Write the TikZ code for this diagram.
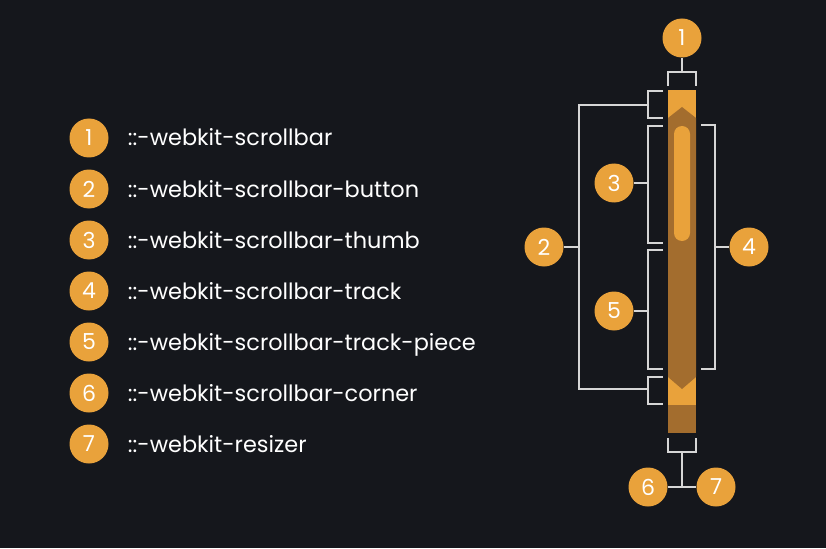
\documentclass[tikz,border=0pt]{standalone}
\usepackage{fontspec}
\setmainfont{Poppins}
\usetikzlibrary{positioning}
\definecolor{bg}{HTML}{15171C}
\definecolor{amber}{HTML}{E9A23B}
\definecolor{bronze}{HTML}{A36D2E}
\definecolor{wire}{HTML}{D6D6D6}
\begin{document}
\begin{tikzpicture}[x=1pt,y=-1pt,
  num/.style={circle,fill=amber,minimum size=39pt,inner sep=0pt,text=white,font=\fontsize{22}{22}\selectfont},
  lbl/.style={anchor=west,text=white,inner sep=0pt,text height=20pt,text depth=4pt,font=\fontsize{22.4}{26}\selectfont},
  link/.style={draw=wire,line width=1.3pt}]
\fill[bg] (0,0) rectangle (826,548);
% legend
\foreach \n/\t [count=\i from 0] in {1/scrollbar,2/scrollbar-button,3/scrollbar-thumb,4/scrollbar-track,5/scrollbar-track-piece,6/scrollbar-corner,7/resizer}
  \node[num] (k\n) at (89,138+51*\i) {\n} node[lbl,right=19pt of k\n] (t\n) {::-webkit-\t};
% scrollbar
\fill[amber] (668,90) rectangle (696,405);
\fill[bronze] (668,118) -- (682,107) -- (696,118) -- (696,377) -- (682,389) -- (668,377) -- cycle;
\fill[bronze] (668,405) rectangle (696,433);
\fill[amber,rounded corners=8pt] (674,126) rectangle (690,241);
% callouts
\node[num] (c1) at (682,38) {1};
\node[num] (c2) at (544,247) {2};
\node[num] (c3) at (614,183) {3};
\node[num] (c4) at (749,247) {4};
\node[num] (c5) at (614,311) {5};
\node[num] (c6) at (648,487) {6};
\node[num] (c7) at (716,487) {7};
\coordinate (bar) at (682,72);
\coordinate (upbtn) at (648,105);
\coordinate (thumb) at (648,183);
\coordinate (piece) at (648,311);
\coordinate (dnbtn) at (648,389);
\coordinate (btns) at (579,247);
\coordinate (track) at (715,247);
\coordinate (corner) at (682,452);
\draw[link] (668,86) -- (668,72) -- (696,72) -- (696,86);
\draw[link] (c1) -- (bar);
\draw[link] (663,91) -- (648,91) -- (648,118) -- (663,118);
\draw[link] (663,126) -- (648,126) -- (648,243) -- (663,243);
\draw[link] (663,250) -- (648,250) -- (648,369) -- (663,369);
\draw[link] (663,377) -- (648,377) -- (648,404) -- (663,404);
\draw[link] (upbtn) -- (579,105) -- (579,389) -- (dnbtn);
\draw[link] (c2) -- (btns);
\draw[link] (c3) -- (thumb);
\draw[link] (c5) -- (piece);
\draw[link] (701,125) -- (715,125) -- (715,369) -- (701,369);
\draw[link] (track) -- (c4);
\draw[link] (668,438) -- (668,452) -- (696,452) -- (696,438);
\draw[link] (corner) -- (682,487);
\draw[link] (c6) -- (c7);
\end{tikzpicture}
\end{document}
